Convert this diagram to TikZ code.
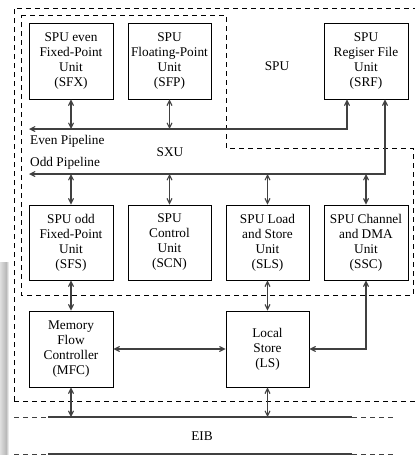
\documentclass[tikz,border=0pt]{standalone}
\usepackage{fontspec}
\setmainfont{Liberation Serif}
\usetikzlibrary{arrows.meta}
\begin{document}
\begin{tikzpicture}[x=1pt,y=-1pt,
  unit/.style={draw=black,line width=0.8pt,rectangle,minimum width=84pt,minimum height=76pt,
    align=center,inner sep=0pt,font=\fontsize{13.3}{15}\selectfont},
  lbl/.style={inner sep=0pt,font=\fontsize{13.3}{15}\selectfont},
  bus/.style={draw=black!75,line width=1.1pt},
  link/.style={draw=black!75,line width=1.1pt,{Straight Barb[length=5pt,width=5pt]}-{Straight Barb[length=5pt,width=5pt]}},
  region/.style={draw=black,line width=0.8pt,dash pattern=on 5pt off 4pt}]
\useasboundingbox (0,0) rectangle (415,455);
% shaded strip on the left edge
\shade[left color=gray!25,right color=gray!55] (0,262) rectangle (6,455);
\shade[left color=gray!55,right color=white] (6,262) rectangle (9,455);

% SPU and SXU regions
\draw[region] (14,401) -- (14,8) -- (415,8);
\draw[region] (14,401) -- (415,401);
\draw[region] (21,15) -- (226,15) -- (226,148) -- (413,148) -- (413,295) -- (21,295) -- cycle;

% units
\node[unit] (sfx) at (71,61) {SPU even\\Fixed-Point\\Unit\\(SFX)};
\node[unit,minimum width=83pt] (sfp) at (169.5,61) {SPU\\Floating-Point\\Unit\\(SFP)};
\node[unit] (srf) at (366,61) {SPU\\Regiser File\\Unit\\(SRF)};
\node[unit,minimum height=75pt] (sfs) at (71,242.5) {SPU odd\\Fixed-Point\\Unit\\(SFS)};
\node[unit,minimum width=83pt,minimum height=75pt] (scn) at (169.5,242.5) {SPU\\Control\\Unit\\(SCN)};
\node[unit,minimum width=83pt,minimum height=75pt] (sls) at (267.5,242.5) {SPU Load\\and Store\\Unit\\(SLS)};
\node[unit,minimum height=75pt] (ssc) at (366,242.5) {SPU Channel\\and DMA\\Unit\\(SSC)};
\node[unit] (mfc) at (71,349) {Memory\\Flow\\Controller\\(MFC)};
\node[unit,minimum width=83pt] (ls) at (267.5,349) {\raisebox{4pt}{\begin{tabular}{@{}c@{}}Local\\Store\\(LS)\end{tabular}}};

% labels
\node[lbl] (spu) at (277,66) {SPU};
\node[lbl] (sxu) at (170,152) {SXU};
\node[lbl,anchor=west] (even) at (30,141) {Even Pipeline};
\node[lbl,anchor=west] (odd) at (30,163) {Odd Pipeline};
\node[lbl] (eib) at (202,436) {EIB};

% pipelines
\coordinate (evenL) at (29,129);
\coordinate (evenR) at (347,129);
\coordinate (oddL) at (29,174);
\coordinate (oddR) at (385,174);
\draw[link] (evenL) -- (evenR) -- (srf.south -| evenR);
\draw[link] (oddL) -- (oddR) -- (srf.south -| oddR);
\draw[link] (sfx.south) -- (sfx.south |- evenL);
\draw[link] (sfp.south) -- (sfp.south |- evenL);
\draw[link] (sfs.north) -- (sfs.north |- oddL);
\draw[link] (scn.north) -- (scn.north |- oddL);
\draw[link] (sls.north) -- (sls.north |- oddL);
\draw[link] (ssc.north) -- (ssc.north |- oddL);

% memory side
\draw[link] (sfs.south) -- (mfc.north);
\draw[link] (sls.south) -- (ls.north);
\draw[link] (mfc.east) -- (ls.west);
\draw[link] (ssc.south) -- (ssc.south |- ls.east) -- (ls.east);

% EIB
\coordinate (eibT) at (0,417);
\coordinate (eibB) at (0,454);
\draw[bus] (48,417) -- (352,417);
\draw[bus] (48,454) -- (352,454);
\draw[region,draw=black!75] (14,417) -- (48,417) (352,417) -- (393,417);
\draw[region,draw=black!75] (14,454) -- (48,454) (352,454) -- (393,454);
\draw[link] (mfc.south) -- (mfc.south |- eibT);
\draw[link] (ls.south) -- (ls.south |- eibT);
\end{tikzpicture}
\end{document}
